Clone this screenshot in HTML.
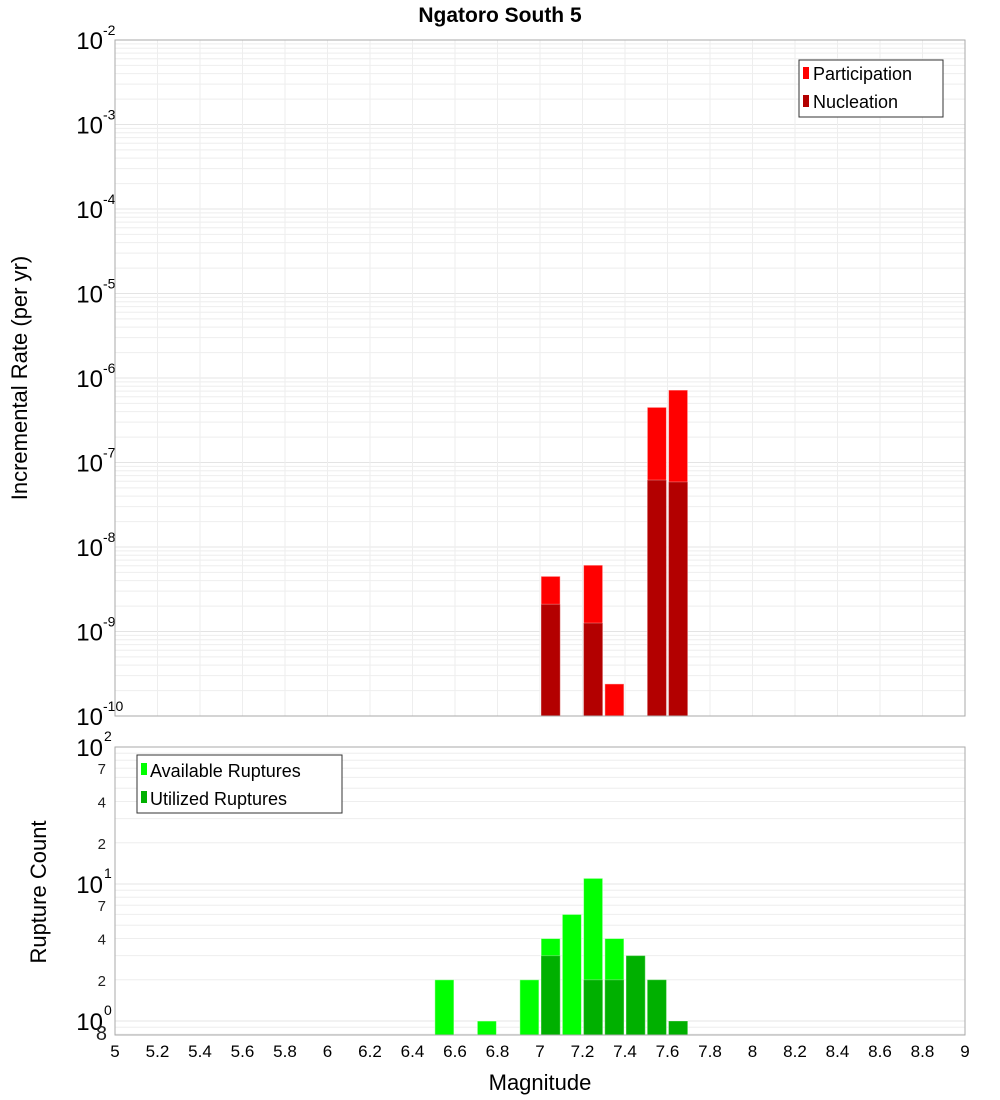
<!DOCTYPE html>
<html><head><meta charset="utf-8"><style>
body{margin:0;background:#fff}
svg{display:block;font-family:"Liberation Sans","DejaVu Sans",sans-serif}
</style></head><body>
<svg id="chart" width="1000" height="1100" xmlns="http://www.w3.org/2000/svg">
<text x="500" y="22" text-anchor="middle" font-size="21" font-weight="bold">Ngatoro South 5</text>
<g id="top-plot"></g><g id="bottom-plot"></g>
</svg>
<script>
const binCenters=[7.05,7.25,7.35,7.55,7.65];
const participation=[4.5e-9,6.1e-9,2.4e-10,4.5e-7,7.2e-7];
const nucleation=[2.1e-9,1.26e-9,0,6.2e-8,5.9e-8];
const countCenters=[6.55,6.75,6.95,7.05,7.15,7.25,7.35,7.45,7.55,7.65];
const available=[2,1,2,4,6,11,4,3,2,1];
const utilized=[0,0,0,3,0,2,2,3,2,1];
const xTicks=[5,5.2,5.4,5.6,5.8,6,6.2,6.4,6.6,6.8,7,7.2,7.4,7.6,7.8,8,8.2,8.4,8.6,8.8,9];
const topExps=[-2,-3,-4,-5,-6,-7,-8,-9,-10];
const botMinor=[[7,'7'],[4,'4'],[2,'2'],[0.7,'7'],[0.4,'4'],[0.2,'2'],[0.008,'8']];
const NS='http://www.w3.org/2000/svg';
const X0=115,X1=965;
const xs=v=>X0+(v-5)/4*(X1-X0);
const yT=v=>40+(-2-Math.log10(v))*84.5;
const yB=v=>747+(2-Math.log10(v))*137;
function el(p,t,a,txt){const e=document.createElementNS(NS,t);for(const k in a)e.setAttribute(k,a[k]);if(txt!==undefined)e.textContent=txt;p.appendChild(e);return e;}
const gTop=document.getElementById('top-plot'),gBot=document.getElementById('bottom-plot');
el(gTop,'rect',{x:X0,y:40,width:X1-X0,height:676,fill:'#fff'});
for(let d=-10;d<-2;d++)for(let m=2;m<10;m++){const yy=yT(m*Math.pow(10,d));const l=el(gTop,'line',{x1:X0,x2:X1,y1:yy,y2:yy,stroke:'#eee'});

}
topExps.forEach(e=>{const yy=yT(Math.pow(10,e));const l=el(gTop,'line',{x1:X0,x2:X1,y1:yy,y2:yy,stroke:'#e4e4e4'});


const t=el(gTop,'text',{x:103,y:yy+9,'text-anchor':'end','font-size':24},'10');


const s=el(gTop,'text',{x:103,y:yy-5,'font-size':14},String(e));

});
xTicks.forEach(v=>{[gTop,gBot].forEach((g,i)=>{const l=el(g,'line',{x1:xs(v),x2:xs(v),y1:i?747:40,y2:i?1035:716,stroke:'#eee'});

});});
binCenters.forEach((c,i)=>{const xl=xs(c-0.045),w=xs(c+0.045)-xl;
const r=el(gTop,'rect',{x:xl,y:yT(participation[i]),width:w,height:716-yT(participation[i]),fill:'#ff0000',stroke:'#fff','stroke-opacity':0.5});


if(nucleation[i]>0){const n=el(gTop,'rect',{x:xl,y:yT(nucleation[i]),width:w,height:716-yT(nucleation[i]),fill:'#b30000',stroke:'#fff','stroke-opacity':0.3});

}});
el(gTop,'rect',{x:X0,y:40,width:X1-X0,height:676,fill:'none',stroke:'#aaa'});
const lg=el(gTop,'g',{});


el(lg,'rect',{x:799,y:60,width:144,height:57,fill:'#fff',stroke:'#333'});
el(lg,'rect',{x:803,y:67,width:6,height:12,fill:'#ff0000'});el(lg,'text',{x:813,y:80,'font-size':18},'Participation');
el(lg,'rect',{x:803,y:95,width:6,height:12,fill:'#b30000'});el(lg,'text',{x:813,y:108,'font-size':18},'Nucleation');
const yt=el(gTop,'text',{transform:'translate(27,378) rotate(-90)','text-anchor':'middle','font-size':22},'Incremental Rate (per yr)');


el(gBot,'rect',{x:X0,y:747,width:X1-X0,height:288,fill:'#fff'});
[0,1].forEach(d=>{for(let m=2;m<10;m++){const yy=yB(m*Math.pow(10,d));const l=el(gBot,'line',{x1:X0,x2:X1,y1:yy,y2:yy,stroke:'#eee'});

}});
[0.8,0.9].forEach(v=>el(gBot,'line',{x1:X0,x2:X1,y1:yB(v),y2:yB(v),stroke:'#eee'}));
[[2,747],[1,884],[0,1021]].forEach(([e,yy])=>{el(gBot,'line',{x1:X0,x2:X1,y1:yy,y2:yy,stroke:'#e4e4e4'});
const t=el(gBot,'text',{x:103,y:yy+9,'text-anchor':'end','font-size':24},'10');


el(gBot,'text',{x:104,y:yy-6,'font-size':14},String(e));});
botMinor.forEach(([v,s])=>{const yy=v===0.008?1033:yB(v*10);el(gBot,'text',{x:v===0.008?107:106,y:yy+(v===0.008?7:6),'text-anchor':'end','font-size':v===0.008?20:15,fill:'#222'},s);});
countCenters.forEach((c,i)=>{const xl=xs(c-0.045),w=xs(c+0.045)-xl;
const r=el(gBot,'rect',{x:xl,y:yB(available[i]),width:w,height:1035-yB(available[i]),fill:'#00ff00',stroke:'#fff','stroke-opacity':0.5});


if(utilized[i]>0){const u=el(gBot,'rect',{x:xl,y:yB(utilized[i]),width:w,height:1035-yB(utilized[i]),fill:'#00b000',stroke:'#fff','stroke-opacity':0.3});

}});
el(gBot,'rect',{x:X0,y:747,width:X1-X0,height:288,fill:'none',stroke:'#aaa'});
const lg2=el(gBot,'g',{});


el(lg2,'rect',{x:137,y:755,width:205,height:58,fill:'#fff',stroke:'#333'});
el(lg2,'rect',{x:141,y:763,width:6,height:12,fill:'#00ff00'});el(lg2,'text',{x:150,y:777,'font-size':18},'Available Ruptures');
el(lg2,'rect',{x:141,y:791,width:6,height:12,fill:'#00b000'});el(lg2,'text',{x:150,y:805,'font-size':18},'Utilized Ruptures');
xTicks.forEach(v=>{const t=el(gBot,'text',{x:xs(v),y:1057,'text-anchor':'middle','font-size':17},String(v));

});
const yt2=el(gBot,'text',{transform:'translate(46,892) rotate(-90)','text-anchor':'middle','font-size':22},'Rupture Count');


const xt=el(gBot,'text',{x:540,y:1090,'text-anchor':'middle','font-size':22},'Magnitude');


</script>
</body></html>
